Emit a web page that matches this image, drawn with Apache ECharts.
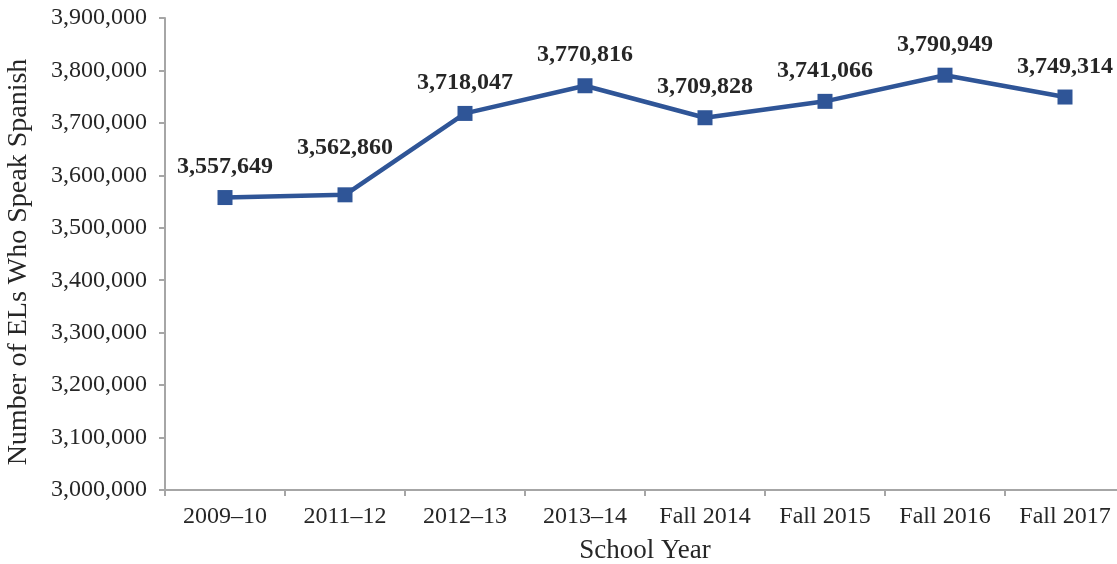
<!DOCTYPE html>
<html>
<head>
<meta charset="utf-8">
<script src="https://cdn.jsdelivr.net/npm/echarts@6/dist/echarts.min.js"></script>
<style>
  html, body { margin: 0; padding: 0; background: #fff; }
  #chart { width: 1117px; height: 564px; }
</style>
</head>
<body>
<div id="chart"></div>
<script>
// school years on the x axis
var years = ['2009–10', '2011–12', '2012–13', '2013–14', 'Fall 2014', 'Fall 2015', 'Fall 2016', 'Fall 2017']
// number of English learners who speak Spanish
var spanishEls = [3557649, 3562860, 3718047, 3770816, 3709828, 3741066, 3790949, 3749314]

var fmt = function(v) { return v.toLocaleString('en-US') }
var font = '"Liberation Serif", "Times New Roman", serif'
var axisGray = '#a6a6a6'
var lineBlue = '#2f5597'

// the 2011-12 label sits a bit higher so it clears the rising line
var points = spanishEls.map(function(v, i) {
  if (i === 1) return { value: v, label: { offset: [0, -17] } }
  return v
})

var chart = echarts.init(document.getElementById('chart'))
chart.setOption({
  animation: false,
  grid: { left: 165, top: 18, width: 960, height: 472, containLabel: false, outerBoundsMode: 'none' },
  xAxis: {
    type: 'category',
    data: years,
    boundaryGap: true,
    name: 'School Year',
    nameLocation: 'middle',
    nameGap: 47,
    nameTextStyle: { fontFamily: font, fontSize: 27, color: '#262626' },
    axisLine: { lineStyle: { color: axisGray, width: 2 } },
    axisTick: { show: true, length: 6, lineStyle: { color: axisGray, width: 2 } },
    axisLabel: { fontFamily: font, fontSize: 24, color: '#262626', margin: 15 }
  },
  yAxis: {
    type: 'value',
    min: 3000000,
    max: 3900000,
    interval: 100000,
    name: 'Number of ELs Who Speak Spanish',
    nameLocation: 'middle',
    nameGap: 132,
    nameTextStyle: { fontFamily: font, fontSize: 28, color: '#262626', padding: [0, 16, 0, 0] },
    axisLine: { show: true, lineStyle: { color: axisGray, width: 2 } },
    axisTick: { show: true, length: 6, lineStyle: { color: axisGray, width: 2 } },
    splitLine: { show: false },
    axisLabel: { fontFamily: font, fontSize: 24, color: '#262626', margin: 18, formatter: fmt }
  },
  series: [{
    type: 'line',
    data: points,
    symbol: 'rect',
    symbolSize: 15,
    lineStyle: { color: lineBlue, width: 4.5 },
    itemStyle: { color: lineBlue },
    label: {
      show: true,
      position: 'top',
      distance: 11,
      fontFamily: font,
      fontSize: 24,
      fontWeight: 'bold',
      color: '#262626',
      formatter: function(p) { return fmt(p.value) }
    }
  }]
})
</script>
</body>
</html>
